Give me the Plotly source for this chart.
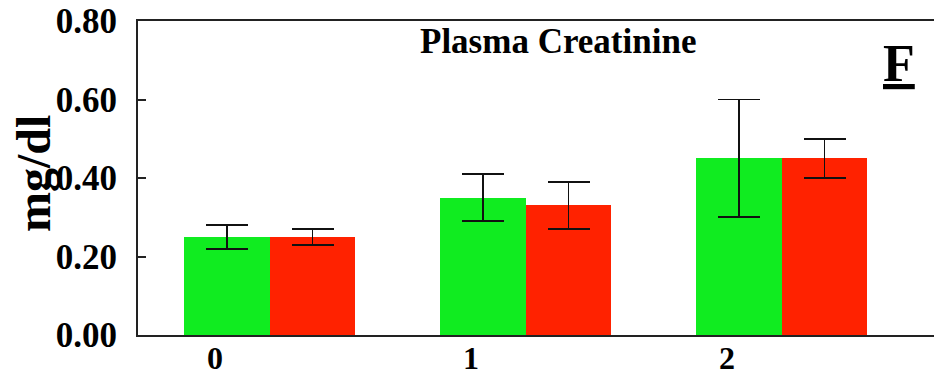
import plotly.graph_objects as go

# Plasma creatinine by group (mg/dl), mean ± error
groups = [0, 1, 2]
tick_labels = ["0", "1", "2"]
green_vals = [0.25, 0.35, 0.45]
green_err = [0.03, 0.06, 0.15]
red_vals = [0.25, 0.33, 0.45]
red_err = [0.02, 0.06, 0.05]
y_ticks = [0.0, 0.2, 0.4, 0.6, 0.8]
y_tick_labels = ["0.00", "0.20", "0.40", "0.60", "0.80"]

FONT = "'Liberation Serif', 'DejaVu Serif', 'Times New Roman', serif"
W, H = 934, 375
ML, MR, MT, MB = 138, 0, 21, 40

fig = go.Figure()
fig.add_trace(go.Bar(
    x=groups, y=green_vals, width=0.334, offset=-0.12,
    marker=dict(color="#10ec20", line=dict(width=0)),
    error_y=dict(type="data", array=green_err, visible=True,
                 color="#111111", thickness=1.8, width=21),
    showlegend=False,
))
fig.add_trace(go.Bar(
    x=groups, y=red_vals, width=0.334, offset=0.214,
    marker=dict(color="#ff2200", line=dict(width=0)),
    error_y=dict(type="data", array=red_err, visible=True,
                 color="#111111", thickness=1.8, width=21),
    showlegend=False,
))

pw = W - ML - MR
ph = H - MT - MB


def px_x(px):
    return (px - ML) / pw


def px_y(py):
    return (H - MB - py) / ph


fig.add_annotation(
    text="<b>Plasma Creatinine</b>", xref="paper", yref="paper",
    x=px_x(558), y=px_y(41), xanchor="center", yanchor="middle",
    showarrow=False, font=dict(family=FONT, size=35, color="black"),
)
fig.add_annotation(
    text="<b><u>F</u></b>", xref="paper", yref="paper",
    x=px_x(899), y=px_y(64), xanchor="center", yanchor="middle",
    showarrow=False, font=dict(family=FONT, size=52, color="black"),
)
fig.add_annotation(
    text="<b>mg/dl</b>", xref="paper", yref="paper",
    x=px_x(33), y=px_y(174), xanchor="center", yanchor="middle",
    textangle=-90, showarrow=False,
    font=dict(family=FONT, size=48, color="black"),
)

fig.update_layout(
    width=W, height=H,
    margin=dict(l=ML, r=MR, t=MT, b=MB, pad=0, autoexpand=False),
    paper_bgcolor="white", plot_bgcolor="white",
    barmode="overlay", bargap=0,
    font=dict(family=FONT, color="black"),
)
fig.update_xaxes(
    range=[-0.3008, -0.3008 + pw / 256.0],
    tickvals=groups, ticktext=[f"<b>{t}</b>" for t in tick_labels],
    tickfont=dict(family=FONT, size=32, color="black"),
    ticks="", showgrid=False, zeroline=False, automargin=False,
    showline=True, linecolor="#222222", linewidth=2, mirror=True,
    ticklabelstandoff=-6,
)
fig.update_yaxes(
    range=[0, 0.8],
    tickvals=y_ticks, ticktext=[f"<b>{t}</b>" for t in y_tick_labels],
    tickfont=dict(family=FONT, size=35, color="black"),
    ticks="inside", ticklen=8, tickwidth=2, tickcolor="#222222",
    showgrid=False, zeroline=False, automargin=False,
    showline=True, linecolor="#222222", linewidth=2, mirror=False,
    ticklabelstandoff=12,
)

fig.write_html("out.html")
